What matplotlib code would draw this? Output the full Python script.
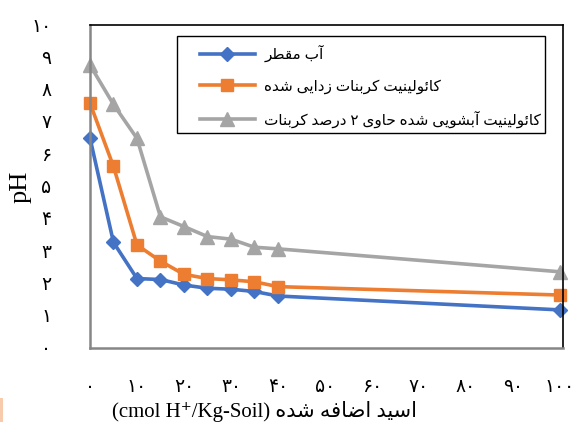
import matplotlib
matplotlib.use('Agg')
import matplotlib.pyplot as plt
from matplotlib.patches import Rectangle

# اسید اضافه شده (cmol H+/Kg-Soil)
acid = [0, 5, 10, 15, 20, 25, 30, 35, 40, 100]

# pH در هر تیمار
ph_water = [6.5, 3.27, 2.15, 2.12, 1.95, 1.85, 1.82, 1.75, 1.61, 1.18]
ph_decarb = [7.58, 5.62, 3.19, 2.69, 2.28, 2.15, 2.11, 2.05, 1.90, 1.64]
ph_leached = [8.76, 7.54, 6.49, 4.06, 3.76, 3.45, 3.37, 3.12, 3.07, 2.36]

series_labels = ['آب مقطر',
                 'کائولینیت کربنات زدایی شده',
                 'کائولینیت آبشویی شده حاوی ۲ درصد کربنات']
x_ticks = [0, 10, 20, 30, 40, 50, 60, 70, 80, 90, 100]
y_ticks = [0, 1, 2, 3, 4, 5, 6, 7, 8, 9, 10]

# formas de presentacion arabes: (aislada, final, inicial, media)
FORMS = {
    'آ': (0xFE81, 0xFE82), 'ا': (0xFE8D, 0xFE8E), 'د': (0xFEA9, 0xFEAA),
    'ر': (0xFEAD, 0xFEAE), 'ز': (0xFEAF, 0xFEB0), 'و': (0xFEED, 0xFEEE),
    'ئ': (0xFE89, 0xFE8A, 0xFE8B, 0xFE8C), 'ب': (0xFE8F, 0xFE90, 0xFE91, 0xFE92),
    'ت': (0xFE95, 0xFE96, 0xFE97, 0xFE98), 'ح': (0xFEA1, 0xFEA2, 0xFEA3, 0xFEA4),
    'س': (0xFEB1, 0xFEB2, 0xFEB3, 0xFEB4), 'ش': (0xFEB5, 0xFEB6, 0xFEB7, 0xFEB8),
    'ص': (0xFEB9, 0xFEBA, 0xFEBB, 0xFEBC), 'ض': (0xFEBD, 0xFEBE, 0xFEBF, 0xFEC0),
    'ط': (0xFEC1, 0xFEC2, 0xFEC3, 0xFEC4), 'ف': (0xFED1, 0xFED2, 0xFED3, 0xFED4),
    'ق': (0xFED5, 0xFED6, 0xFED7, 0xFED8), 'ل': (0xFEDD, 0xFEDE, 0xFEDF, 0xFEE0),
    'م': (0xFEE1, 0xFEE2, 0xFEE3, 0xFEE4), 'ن': (0xFEE5, 0xFEE6, 0xFEE7, 0xFEE8),
    'ه': (0xFEE9, 0xFEEA, 0xFEEB, 0xFEEC), 'ک': (0xFB8E, 0xFB8F, 0xFB90, 0xFB91),
    'ی': (0xFBFC, 0xFBFD, 0xFBFE, 0xFBFF),
}


def fa(text):
    # unir letras y poner en orden visual (derecha a izquierda)
    out = []
    for i, ch in enumerate(text):
        f = FORMS.get(ch)
        if f is None:
            out.append(ch)
            continue
        prev = text[i - 1] if i > 0 else ''
        nxt = text[i + 1] if i + 1 < len(text) else ''
        jp = prev in FORMS and len(FORMS[prev]) == 4
        jn = len(f) == 4 and nxt in FORMS
        if jp and jn:
            c = f[3]
        elif jp:
            c = f[1]
        elif jn:
            c = f[2]
        else:
            c = f[0]
        out.append(chr(c))
    return ''.join(out)[::-1]


def fa_num(n):
    return str(n).translate(str.maketrans('0123456789', '۰۱۲۳۴۵۶۷۸۹'))


plt.rcParams['font.family'] = ['Liberation Serif', 'DejaVu Sans']

fig = plt.figure(figsize=(5.78, 4.26), dpi=100)
ax = fig.add_axes([90 / 578, 1 - 348 / 426, 473 / 578, 323 / 426])

ax.plot(acid, ph_water, color='#4472C4', lw=2.6, marker='D', ms=7, label=fa(series_labels[0]))
ax.plot(acid, ph_decarb, color='#ED7D31', lw=2.6, marker='s', ms=9, label=fa(series_labels[1]))
ax.plot(acid, ph_leached, color='#A5A5A5', lw=2.6, marker='^', ms=10, label=fa(series_labels[2]))

ax.set_xlim(0, 100.7)
ax.set_ylim(0, 10)
ax.set_xticks(x_ticks)
ax.set_xticklabels([fa_num(v) for v in x_ticks])
ax.set_yticks(y_ticks)
ax.set_yticklabels([fa_num(v) for v in y_ticks])
ax.tick_params(length=0, labelsize=13.5)
ax.tick_params(axis='x', pad=22)
ax.tick_params(axis='y', pad=28)

for s in ['left', 'bottom']:
    ax.spines[s].set_color('#868686')
    ax.spines[s].set_linewidth(1.8)
for s in ['top', 'right']:
    ax.spines[s].set_color('black')
    ax.spines[s].set_linewidth(1.2)
for line in ax.get_lines():
    line.set_clip_on(False)

ax.set_ylabel('pH', fontsize=19)
ax.yaxis.set_label_coords(-58 / 473, 0.5)
ax.set_xlabel('(cmol H⁺/Kg-Soil) ' + fa('اسید اضافه شده'), fontsize=15)
ax.xaxis.set_label_coords(175 / 473, -0.165)

# leyenda sin marco, el marco va aparte
leg = ax.legend(loc='upper left', bbox_to_anchor=(200 / 578, 1 - 45 / 426),
                bbox_transform=fig.transFigure, frameon=False, fontsize=11,
                handlelength=3.6, handletextpad=0.6, labelspacing=1.1,
                borderpad=0, borderaxespad=0)
fig.patches.append(Rectangle((177 / 578, 1 - 133 / 426), 368 / 578, 97 / 426,
                             transform=fig.transFigure, fill=False,
                             edgecolor='black', lw=1.0, zorder=5))

# resto naranja recortado en la esquina
fig.patches.append(Rectangle((0, 4 / 426), 3 / 578, 24 / 426, transform=fig.transFigure,
                             color='#F8CBAD', lw=0))

fig.savefig('out.png', dpi=100)
